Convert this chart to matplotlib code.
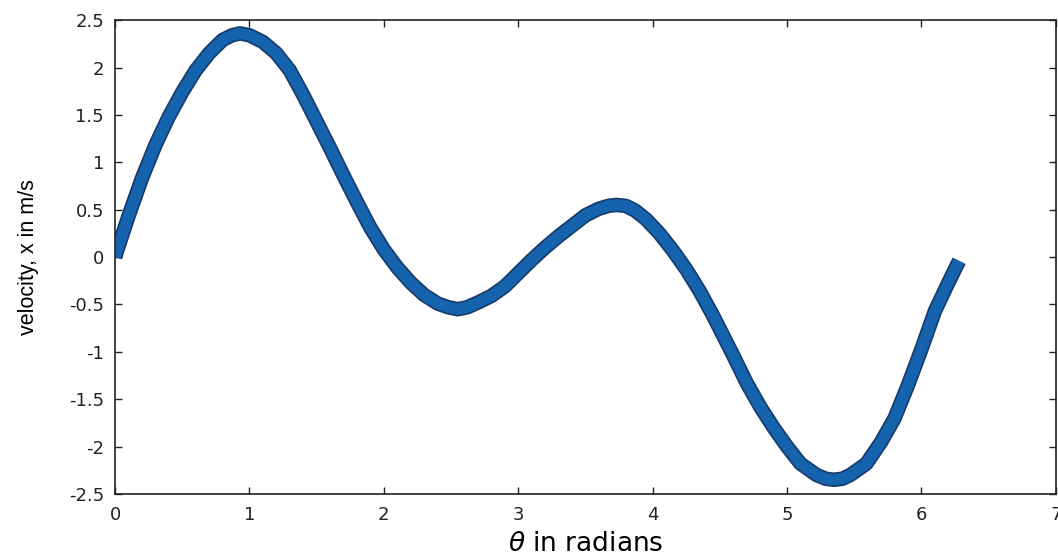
import matplotlib.pyplot as plt
import matplotlib.patheffects as pe
import numpy as np

# values
theta = [0.0, 0.1, 0.2, 0.3, 0.4, 0.5, 0.6, 0.7, 0.8, 0.87, 0.93, 1.0, 1.1, 1.2, 1.3, 1.4,
         1.5, 1.6, 1.7, 1.8, 1.9, 2.0, 2.1, 2.2, 2.3, 2.4, 2.48, 2.55, 2.62, 2.7, 2.8, 2.9, 3.0,
         3.1, 3.2, 3.3, 3.4, 3.5, 3.6, 3.67, 3.73, 3.8, 3.87, 3.95, 4.05, 4.15, 4.25, 4.35, 4.45,
         4.6, 4.7, 4.8, 4.9, 5.0, 5.1, 5.22, 5.29, 5.35, 5.41, 5.47, 5.59, 5.7, 5.8, 5.9, 6.0, 6.1,
         6.2, 6.28]
velocity = [0.0, 0.43, 0.83, 1.18, 1.48, 1.74, 1.97, 2.15, 2.29, 2.34, 2.36, 2.34, 2.27, 2.15, 1.97, 1.71,
            1.43, 1.15, 0.86, 0.58, 0.31, 0.08, -0.11, -0.27, -0.40, -0.49, -0.53, -0.55, -0.53, -0.48, -0.41, -0.31, -0.17,
            -0.03, 0.10, 0.22, 0.33, 0.44, 0.51, 0.54, 0.55, 0.54, 0.49, 0.40, 0.25, 0.07, -0.13, -0.36, -0.62,
            -1.04, -1.33, -1.58, -1.80, -2.0, -2.18, -2.30, -2.34, -2.35, -2.34, -2.30, -2.18, -1.95, -1.70, -1.35, -0.97, -0.57,
            -0.27, -0.04]

xticks = [0, 1, 2, 3, 4, 5, 6, 7]
yticks = [-2.5, -2, -1.5, -1, -0.5, 0, 0.5, 1, 1.5, 2, 2.5]
ytick_labels = ['-2.5', '-2', '-1.5', '-1', '-0.5', '0', '0.5', '1', '1.5', '2', '2.5']

plt.rcParams['font.family'] = ['DejaVu Sans']

fig = plt.figure(figsize=(10.58, 5.59), dpi=100)
ax = fig.add_axes([0.1087, 0.1163, 0.8893, 0.8477])

ax.plot(theta, velocity, color='#1562ad', linewidth=8, solid_capstyle='butt',
        solid_joinstyle='round',
        path_effects=[pe.Stroke(linewidth=10.5, foreground='#163c6c'), pe.Normal()])

ax.set_xlim(0, 7)
ax.set_ylim(-2.5, 2.5)
ax.set_xticks(xticks)
ax.set_yticks(yticks)
ax.set_yticklabels(ytick_labels)
ax.tick_params(direction='in', length=5, width=1, top=True, right=True,
               labelsize=13, colors='#222222')
ax.tick_params(axis='x', pad=9)
ax.tick_params(axis='y', pad=8)
for s in ax.spines.values():
    s.set_linewidth(1.2)
    s.set_color('#222222')

ax.set_xlabel(r'$\theta$ in radians', fontsize=19, labelpad=5)
ax.set_ylabel('velocity, x in m/s', fontsize=15.5, labelpad=21,
              family=['Liberation Sans', 'DejaVu Sans'])

fig.savefig('out.png', dpi=100)
